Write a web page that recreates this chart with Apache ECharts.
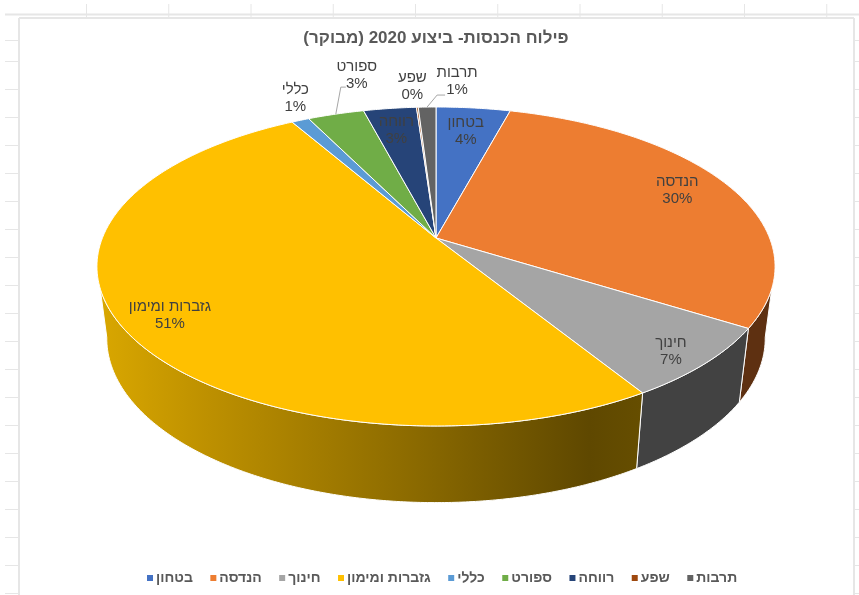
<!DOCTYPE html>
<html>
<head>
<meta charset="utf-8">
<title>פילוח הכנסות</title>
<script src="https://cdn.jsdelivr.net/npm/echarts@6/dist/echarts.min.js"></script>
<style>
html, body { margin: 0; padding: 0; background: #fff; }
#main { width: 859px; height: 595px; }
</style>
</head>
<body>
<div id="main"></div>
<script>
var categories = ['בטחון', 'הנדסה', 'חינוך', 'גזברות ומימון', 'כללי', 'ספורט', 'רווחה', 'שפע', 'תרבות'];
var shares = [4.2, 29.7, 7.3, 50.5, 1.0, 3.2, 3.0, 0.1, 1.0];
var topColors = ['#4472C4', '#ED7D31', '#A5A5A5', '#FFC000', '#5B9BD5', '#70AD47', '#264478', '#9E480E', '#636363'];
var titleText = 'פילוח הכנסות- ביצוע 2020 (מבוקר)';

// label place per slice: radius on the disc, then a shift in pixels
var labelPlace = [[0.8, -1, 1], [0.84, -6, -3], [0.88, 2, 5], [0.9, 15, 0], [1, -5, -22], [1, 21, -39], [0.84, 0, 4], [1, -5, -21], [1, 30, -26]];
var leaders = { 5: [[5, -27], [10, -27]], 8: [[10, -12], [18, -12]] };

// 3d look: the disc is a circle seen through a simple perspective
var cx = 436, cy = 238, rx = 333.6, ry = 154.4, k = 0.1786;
var depth = 71, bottomX = 0.971, bottomY = 1.03;
// the wall leaves the rim further round than it meets the bottom edge
var rimFrom = 108, rimTo = 252, lowFrom = 100, lowTo = 260;

function project(deg, r) {
    var a = deg * Math.PI / 180;
    var u = r * Math.sin(a), v = r * Math.cos(a);
    var w = 1 + k * v;
    return [cx + rx * u / w, cy - ry * v / w];
}
function projectBottom(deg) {
    var p = project(deg, 1);
    return [cx + (p[0] - cx) * bottomX, cy + depth + (p[1] - cy) * bottomY];
}
function arc(from, to, fn) {
    var pts = [], n = Math.max(2, Math.ceil(Math.abs(to - from) * 2));
    for (var i = 0; i <= n; i++) pts.push(fn(from + (to - from) * i / n));
    return pts;
}

var total = shares.reduce(function (s, v) { return s + v; }, 0);
var starts = [], acc = 0;
shares.forEach(function (v) { starts.push(acc / total * 360); acc += v; });

var wallFills = {
    1: '#5E3011',
    2: '#424242',
    3: new echarts.graphic.LinearGradient(0, 0, 1, 0, [
        { offset: 0, color: '#D9A700' },
        { offset: 0.2, color: '#BD9000' },
        { offset: 0.55, color: '#8F6D00' },
        { offset: 0.9, color: '#5F4800' },
        { offset: 1, color: '#664E00' }
    ])
};

function drawSlice(i) {
    return function (params, api) {
        var value = api.value(0);
        var a0 = starts[i], a1 = a0 + value / total * 360, mid = (a0 + a1) / 2;
        var children = [];

        if (wallFills[i]) {
            var rim = arc(Math.max(a0, rimFrom), Math.min(a1, rimTo), function (d) { return project(d, 1); });
            var low = arc(a1 > rimTo ? lowTo : a1, a0 < rimFrom ? lowFrom : a0, projectBottom);
            children.push({
                type: 'polygon',
                shape: { points: rim.concat(low) },
                style: { fill: wallFills[i], stroke: '#fff', lineWidth: 1 }
            });
        }

        var face = [[cx, cy]].concat(arc(a0, a1, function (d) { return project(d, 1); }));
        children.push({
            type: 'polygon',
            shape: { points: face },
            style: { fill: topColors[i], stroke: '#fff', lineWidth: 1 }
        });

        var place = labelPlace[i];
        var at = project(mid, place[0]);
        children.push({
            type: 'text',
            z2: 10,
            style: {
                x: at[0] + place[1], y: at[1] + place[2],
                text: categories[i] + '\n' + Math.round(value / total * 100) + '%',
                align: 'center', verticalAlign: 'middle',
                font: '15px "Liberation Sans"', lineHeight: 17, fill: '#404040'
            }
        });

        if (leaders[i]) {
            var s = project(mid, 1);
            var line = [s].concat(leaders[i].map(function (o) { return [s[0] + o[0], s[1] + o[1]]; }));
            children.push({
                type: 'polyline',
                shape: { points: line },
                style: { fill: null, stroke: '#A6A6A6', lineWidth: 1 }
            });
        }
        return { type: 'group', children: children };
    };
}

// spreadsheet cells behind the chart
var gridColor = '#E6E6E6';
var sheet = [];
function sheetLine(x1, y1, x2, y2, w) {
    sheet.push({ type: 'line', silent: true, shape: { x1: x1, y1: y1, x2: x2, y2: y2 }, style: { stroke: gridColor, lineWidth: w || 1 } });
}
sheetLine(5, 14.5, 859, 14.5, 2);
sheetLine(19, 18, 854, 18, 2);
sheetLine(19, 18, 19, 595, 2);
sheetLine(854, 18, 854, 595, 2);
for (var c = 0; c < 10; c++) sheetLine(86.5 + c * 82.25, 4, 86.5 + c * 82.25, 17);
sheetLine(5, 40.5, 18, 40.5);
sheetLine(855, 40.5, 859, 40.5);
for (var r = 0; r < 20; r++) {
    var ry0 = 61.5 + r * 28;
    sheetLine(5, ry0, 18, ry0);
    sheetLine(855, ry0, 859, ry0);
}

var myChart = echarts.init(document.getElementById('main'), null, { renderer: 'canvas' });
var option = {
    animation: false,
    backgroundColor: '#fff',
    title: {
        text: titleText,
        left: 431,
        top: 25,
        textAlign: 'center',
        textStyle: { fontFamily: 'Liberation Sans', fontSize: 17, fontWeight: 'bold', color: '#595959' }
    },
    legend: {
        data: categories,
        left: 142,
        top: 566,
        icon: 'rect',
        itemWidth: 6,
        itemHeight: 6,
        itemGap: 17.5,
        textStyle: { fontFamily: 'Liberation Sans', fontSize: 14, fontWeight: 'bold', color: '#595959', padding: [0, 0, 0, -2] }
    },
    graphic: sheet,
    series: categories.map(function (name, i) {
        return {
            type: 'custom',
            name: name,
            coordinateSystem: 'none',
            itemStyle: { color: topColors[i] },
            renderItem: drawSlice(i),
            data: [[shares[i]]]
        };
    })
};
myChart.setOption(option);
</script>
</body>
</html>
